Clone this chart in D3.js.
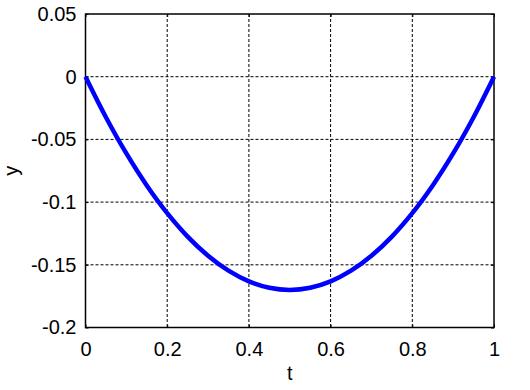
<!DOCTYPE html>
<html><head><meta charset="utf-8">
<script src="https://cdn.jsdelivr.net/npm/d3@7"></script>
<style>body{margin:0;background:#fff}text{font-family:"Liberation Sans",Arial,sans-serif}</style>
</head><body><svg id="c" width="530" height="390"></svg>
<script>
const tValues = [0,0.05,0.1,0.15,0.2,0.25,0.3,0.35,0.4,0.45,0.5,0.55,0.6,0.65,0.7,0.75,0.8,0.85,0.9,0.95,1];
const yValues = [0,-0.0323,-0.0612,-0.0867,-0.1088,-0.1275,-0.1428,-0.1547,-0.1632,-0.1683,-0.17,-0.1683,-0.1632,-0.1547,-0.1428,-0.1275,-0.1088,-0.0867,-0.0612,-0.0323,0];
const xTicks = [0,0.2,0.4,0.6,0.8,1];
const yTicks = [-0.2,-0.15,-0.1,-0.05,0,0.05];
const xTickLabels = ["0","0.2","0.4","0.6","0.8","1"];
const yTickLabels = ["-0.2","-0.15","-0.1","-0.05","0","0.05"];

const L=85.5,R=494,T=14,B=327.5;
const svg=d3.select("#c");
const x=d3.scaleLinear().domain([0,1]).range([L,R]);
const y=d3.scaleLinear().domain([-0.2,0.05]).range([B,T]);

// grid
svg.append("g").selectAll("line").data(xTicks.slice(1,-1)).join("line")
  .attr("x1",d=>x(d)).attr("x2",d=>x(d)).attr("y1",T).attr("y2",B)
  .attr("stroke","#000").attr("stroke-width",1).attr("stroke-dasharray","3,2");
svg.append("g").selectAll("line").data(yTicks.slice(1,-1)).join("line")
  .attr("y1",d=>y(d)).attr("y2",d=>y(d)).attr("x1",L).attr("x2",R)
  .attr("stroke","#000").attr("stroke-width",1).attr("stroke-dasharray","3,2");

// axes with inward ticks
const xa=svg.append("g").attr("transform",`translate(0,${B})`)
  .call(d3.axisBottom(x).tickValues(xTicks).tickFormat((d,i)=>xTickLabels[i]).tickSizeInner(-3).tickSizeOuter(0).tickPadding(14));
const xt=svg.append("g").attr("transform",`translate(0,${T})`)
  .call(d3.axisTop(x).tickValues(xTicks).tickFormat("").tickSizeInner(-3).tickSizeOuter(0));
const ya=svg.append("g").attr("transform",`translate(${L},0)`)
  .call(d3.axisLeft(y).tickValues(yTicks).tickFormat((d,i)=>yTickLabels[i]).tickSizeInner(-3).tickSizeOuter(0).tickPadding(9));
const yr=svg.append("g").attr("transform",`translate(${R},0)`)
  .call(d3.axisRight(y).tickValues(yTicks).tickFormat("").tickSizeInner(-3).tickSizeOuter(0));
[xa,xt,ya,yr].forEach(g=>{g.select(".domain").remove();g.selectAll("line").attr("stroke","#000");
  g.selectAll("text").attr("font-size",20).attr("fill","#000").style("font-family","'Liberation Sans',Arial,sans-serif");});

svg.append("rect").attr("x",L).attr("y",T).attr("width",R-L).attr("height",B-T)
  .attr("fill","none").attr("stroke","#000").attr("stroke-width",1.5);

// curve
svg.append("path").datum(tValues.map((t,i)=>[t,yValues[i]]))
  .attr("d",d3.line().x(d=>x(d[0])).y(d=>y(d[1])).curve(d3.curveCatmullRom))
  .attr("fill","none").attr("stroke","#0000ff").attr("stroke-width",4.5).attr("stroke-linejoin","round");

svg.append("text").attr("x",(L+R)/2).attr("y",380).attr("text-anchor","middle").attr("font-size",20).text("t");
svg.append("text").attr("transform",`translate(18,${(T+B)/2}) rotate(-90)`).attr("text-anchor","middle").attr("font-size",20).text("y");
</script></body></html>
